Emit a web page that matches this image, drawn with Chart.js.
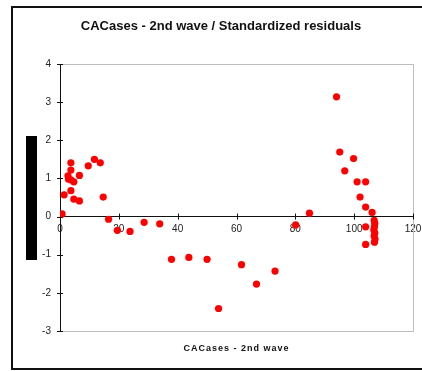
<!DOCTYPE html>
<html lang="en">
<head>
  <meta charset="UTF-8" />
  <title>CACases - 2nd wave / Standardized residuals</title>
  <script src="https://cdn.jsdelivr.net/npm/chart.js"></script>
  <style>
    * { margin: 0; padding: 0; box-sizing: border-box; }
    body { background: #fff; width: 422px; height: 371px; overflow: hidden; }
    canvas { display: block; }
  </style>
</head>
<body>
  <canvas id="resChart" width="422" height="371"></canvas>

  <script>
    // CACases - 2nd wave (x) vs standardized residuals (y)
    const casesX = [
      0.7, 1.4, 2.7, 2.9, 3.7, 3.7, 3.7, 3.7, 4.7, 4.7,
      6.6, 6.6, 9.6, 11.7, 13.7, 14.7, 16.5, 19.5, 23.8, 28.6,
      33.9, 37.9, 43.8, 50.0, 53.9, 61.7, 66.8, 73.1, 80.1, 84.8,
      94.0, 95.1, 96.8, 99.8, 101.0, 102.0, 103.9, 103.9, 106.1, 103.9,
      103.9, 106.8, 107.0, 106.9, 106.7, 107.0, 106.8, 107.1, 106.9
    ];
    const residualsY = [
      0.07, 0.57, 1.07, 0.98, 1.41, 1.22, 0.96, 0.68, 0.91, 0.46,
      1.08, 0.41, 1.33, 1.50, 1.41, 0.51, -0.07, -0.36, -0.39, -0.15,
      -0.19, -1.12, -1.07, -1.12, -2.41, -1.26, -1.77, -1.43, -0.22, 0.09,
      3.14, 1.69, 1.20, 1.52, 0.91, 0.51, 0.91, 0.25, 0.11, -0.27,
      -0.73, -0.10, -0.18, -0.27, -0.35, -0.43, -0.51, -0.59, -0.67
    ];
    const xTicks = [0, 20, 40, 60, 80, 100, 120];
    const yTicks = [-3, -2, -1, 0, 1, 2, 3, 4];

    const chartTitle = 'CACases - 2nd wave / Standardized residuals';
    const xTitle = 'CACases - 2nd wave';

    const puntos = casesX.map((x, i) => ({ x: x, y: residualsY[i] }));
    const fuente = "'Liberation Sans', Arial, sans-serif";

    // frame, crossing tick marks, titles and the black block on the left
    const decoracion = {
      id: 'decoracion',
      beforeDatasetsDraw(chart) {
        const c = chart.ctx;
        const a = chart.chartArea;
        const sx = chart.scales.x;
        const sy = chart.scales.y;
        c.save();
        // grey plot border (top, right, bottom)
        c.strokeStyle = '#bdbdbd';
        c.lineWidth = 1;
        c.beginPath();
        c.moveTo(a.left, Math.round(a.top) + 0.5);
        c.lineTo(Math.round(a.right) + 0.5, Math.round(a.top) + 0.5);
        c.lineTo(Math.round(a.right) + 0.5, Math.round(a.bottom) + 0.5);
        c.lineTo(a.left, Math.round(a.bottom) + 0.5);
        c.stroke();

        // tick marks crossing both axes
        c.strokeStyle = '#111';
        const y0 = sy.getPixelForValue(0);
        const xl = sx.getPixelForValue(0);
        c.beginPath();
        xTicks.forEach(v => {
          if (v === 0) return;
          const px = Math.round(sx.getPixelForValue(v)) + 0.5;
          c.moveTo(px, y0 - 3);
          c.lineTo(px, y0 + 3);
        });
        yTicks.forEach(v => {
          const py = Math.round(sy.getPixelForValue(v)) + 0.5;
          c.moveTo(xl - 3, py);
          c.lineTo(xl + 3, py);
        });
        c.stroke();
        c.restore();
      },
      afterDraw(chart) {
        const c = chart.ctx;
        const a = chart.chartArea;
        c.save();
        // outer frame (right edge runs off the picture)
        c.strokeStyle = '#111';
        c.lineWidth = 2;
        c.strokeRect(12, 7, 430, 362);

        // black block where the y title would be
        c.fillStyle = '#000';
        c.fillRect(26, 136, 11, 124);

        // titles
        c.fillStyle = '#111';
        c.textAlign = 'center';
        c.textBaseline = 'middle';
        c.font = 'bold 13px ' + fuente;
        c.fillText(chartTitle, 221, 26);
        c.font = 'bold 9px ' + fuente;
        c.letterSpacing = '1px';
        c.fillText(xTitle, (a.left + a.right) / 2, 349);
        c.restore();
      }
    };

    const ctx = document.getElementById('resChart').getContext('2d');
    const chart = new Chart(ctx, {
      type: 'scatter',
      data: {
        datasets: [{
          label: 'Standardized residuals',
          data: puntos,
          backgroundColor: '#ff0000',
          borderWidth: 0,
          pointRadius: 3.6,
          pointHoverRadius: 3.6
        }]
      },
      options: {
        responsive: false,
        animation: false,
        layout: { padding: { left: 0, top: 64, right: 9, bottom: 40 } },
        plugins: {
          legend: { display: false },
          tooltip: { enabled: false }
        },
        scales: {
          x: {
            type: 'linear',
            position: { y: 0 },
            min: 0,
            max: 120,
            afterBuildTicks: s => { s.ticks = xTicks.map(v => ({ value: v })); },
            afterFit: s => { s.paddingLeft = 0; s.paddingRight = 0; },
            ticks: {
              color: '#222',
              font: { family: fuente, size: 10 },
              padding: 7,
              maxRotation: 0
            },
            grid: { display: false, drawTicks: false },
            border: { display: true, color: '#111', width: 1 }
          },
          y: {
            type: 'linear',
            position: 'left',
            min: -3,
            max: 4,
            afterBuildTicks: s => { s.ticks = yTicks.map(v => ({ value: v })); },
            afterFit: s => { s.width = 60; },
            ticks: {
              color: '#222',
              font: { family: fuente, size: 10 },
              padding: 9
            },
            grid: { display: false, drawTicks: false },
            border: { display: true, color: '#111', width: 1 }
          }
        }
      },
      plugins: [decoracion]
    });
  </script>
</body>
</html>
